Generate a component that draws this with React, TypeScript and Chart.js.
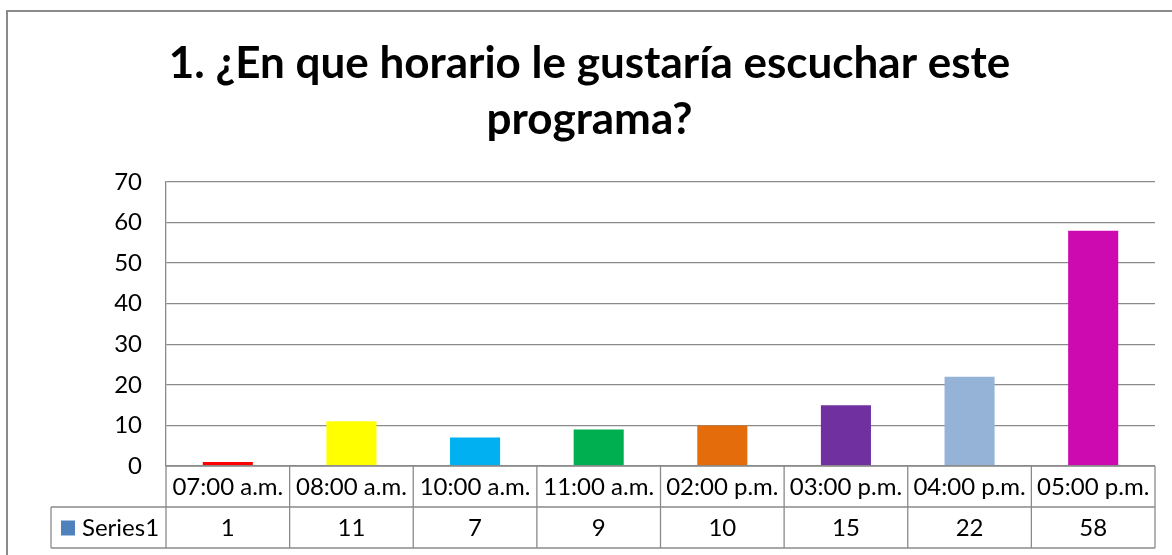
import React, { useEffect, useRef } from 'react';
import { Chart, registerables } from 'chart.js';

Chart.register(...registerables);

const categories = ['07:00 a.m.', '08:00 a.m.', '10:00 a.m.', '11:00 a.m.', '02:00 p.m.', '03:00 p.m.', '04:00 p.m.', '05:00 p.m.'];
const values = [1, 11, 7, 9, 10, 15, 22, 58];
const barColors = ['#FF0000', '#FFFF00', '#00B0F0', '#00B050', '#E46C0A', '#7030A0', '#95B3D7', '#CC0AB0'];
const seriesName = 'Series1';
const seriesColor = '#4F81BD';
const titleLines = ['1. ¿En que horario le gustaría escuchar este', 'programa?'];
const yMin = 0;
const yMax = 70;
const yStep = 10;

const FONT = 'Lato, Carlito, Calibri, sans-serif';
const GRID = '#8a8a8a';
const TEXT_SIZE = 24;

const tablePlugin = {
  id: 'dataTable',
  beforeDraw(chart: any) {
    const { ctx } = chart;
    ctx.save();
    ctx.fillStyle = '#fff';
    ctx.fillRect(0, 0, chart.width, chart.height);
    ctx.strokeStyle = GRID;
    ctx.lineWidth = 2;
    ctx.strokeRect(7, 11, chart.width + 50, chart.height + 50);
    ctx.restore();
  },
  afterDraw(chart: any) {
    const { ctx, chartArea } = chart;
    const n = categories.length;
    const left = chartArea.left;
    const right = chartArea.right;
    const colW = (right - left) / n;
    const r0 = chartArea.bottom;
    const r1 = r0 + 41;
    const r2 = r1 + 41;
    const legendLeft = 51;
    ctx.save();
    ctx.strokeStyle = GRID;
    ctx.lineWidth = 1.3;
    const line = (x1: number, y1: number, x2: number, y2: number) => {
      ctx.beginPath();
      ctx.moveTo(x1, y1);
      ctx.lineTo(x2, y2);
      ctx.stroke();
    };
    line(left, r0, right, r0);
    line(legendLeft, r1, right, r1);
    line(legendLeft, r2, right, r2);
    line(legendLeft, r1, legendLeft, r2);
    for (let i = 0; i <= n; i++) {
      const xb = left + i * colW;
      line(xb, r0, xb, r2);
    }
    ctx.fillStyle = '#000';
    ctx.font = `${TEXT_SIZE}px ${FONT}`;
    ctx.textAlign = 'center';
    ctx.textBaseline = 'middle';
    const xs = chart.scales.x;
    for (let i = 0; i < n; i++) {
      const cx = xs.getPixelForValue(i);
      ctx.fillText(categories[i], cx, (r0 + r1) / 2 + 1);
      ctx.fillText(String(values[i]), cx, (r1 + r2) / 2 + 1);
    }
    ctx.fillStyle = seriesColor;
    ctx.fillRect(61, (r1 + r2) / 2 - 7, 14, 15);
    ctx.fillStyle = '#000';
    ctx.textAlign = 'left';
    ctx.fillText(seriesName, 82, (r1 + r2) / 2 + 1);
    ctx.restore();
  },
};

export default function App() {
  const ref = useRef<HTMLCanvasElement>(null);
  useEffect(() => {
    if (!ref.current) return;
    const chart = new Chart(ref.current, {
      type: 'bar',
      data: {
        labels: categories,
        datasets: [
          {
            label: seriesName,
            data: values,
            backgroundColor: barColors,
            borderWidth: 0,
            barPercentage: 0.405,
            categoryPercentage: 1,
          },
        ],
      },
      options: {
        animation: false,
        responsive: false,
        layout: { padding: { left: 24, right: 17, top: 0, bottom: 89 } },
        plugins: {
          legend: { display: false },
          tooltip: { enabled: false },
          title: {
            display: true,
            text: titleLines,
            color: '#000',
            font: { family: FONT, size: 44, weight: 'bold', lineHeight: 56 / 44 },
            padding: { top: 36, bottom: 34 },
          },
        },
        scales: {
          x: { display: false, offset: true },
          y: {
            min: yMin,
            max: yMax,
            ticks: { stepSize: yStep, color: '#000', font: { family: FONT, size: TEXT_SIZE }, padding: 24 },
            grid: { color: GRID, lineWidth: 1.3, drawTicks: false },
            border: { display: true, color: GRID, width: 1.3 },
            afterFit: (s: any) => {
              s.width = 142;
            },
          },
        },
      },
      plugins: [tablePlugin],
    });
    return () => chart.destroy();
  }, []);
  return (
    <div style={{ position: 'absolute', left: 0, top: 0, width: 1172, height: 555 }}>
      <canvas ref={ref} width={1172} height={555} />
    </div>
  );
}
